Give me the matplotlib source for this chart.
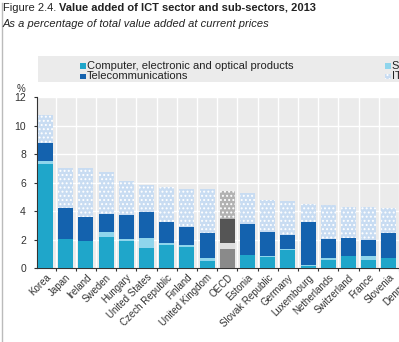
import matplotlib
matplotlib.use('Agg')
import matplotlib.pyplot as plt
from matplotlib.patches import Rectangle
from matplotlib.lines import Line2D
import numpy as np

plt.rcParams['font.family'] = ['Liberation Sans', 'DejaVu Sans']
plt.rcParams['hatch.linewidth'] = 0.9

countries = ['Korea', 'Japan', 'Ireland', 'Sweden', 'Hungary', 'United States',
             'Czech Republic', 'Finland', 'United Kingdom', 'OECD', 'Estonia',
             'Slovak Republic', 'Germany', 'Luxembourg', 'Netherlands',
             'Switzerland', 'France', 'Slovenia', 'Denmark']
computer = [7.35, 2.04, 1.94, 2.22, 1.92, 1.40, 1.64, 1.50, 0.53, 1.35,
            0.90, 0.77, 1.26, 0.15, 0.58, 0.86, 0.56, 0.72, 0.30]
software = [0.20, 0.00, 0.00, 0.35, 0.14, 0.75, 0.14, 0.13, 0.21, 0.40,
            0.00, 0.09, 0.09, 0.05, 0.12, 0.00, 0.28, 0.00, 0.30]
telecom = [1.22, 2.17, 1.69, 1.24, 1.68, 1.80, 1.45, 1.27, 1.76, 1.69,
           2.21, 1.69, 0.99, 3.07, 1.33, 1.29, 1.12, 1.74, 1.80]
it_services = [1.98, 2.85, 3.39, 2.97, 2.39, 1.90, 2.50, 2.68, 3.04, 2.01,
               2.20, 2.24, 2.41, 1.24, 2.41, 2.13, 2.32, 1.80, 1.80]
series_names = ['Computer, electronic and optical products', 'Telecommunications',
                'Software publishing', 'IT and other information services']

c_comp, c_soft, c_tel, c_it = '#1fa6ca', '#8fd5ec', '#1462ae', '#c8dcf2'
g_comp, g_soft, g_tel, g_it = '#8a8a8a', '#dedede', '#555555', '#b2b2b2'

W, H = 399, 342
fig = plt.figure(figsize=(W / 100, H / 100), dpi=100)
x = np.arange(len(countries))
# axes runs past the right edge, like the cropped original
ax = fig.add_axes([37 / W, (H - 268.3) / H, 19 * 20.2 / W, 171 / H])
ax.set_facecolor('#ebebeb')

is_oecd = np.array([c == 'OECD' for c in countries])
cols = [np.where(is_oecd, g, c) for c, g in
        [(c_comp, g_comp), (c_soft, g_soft), (c_tel, g_tel), (c_it, g_it)]]

bottom = np.zeros(len(x))
for vals, col, hatch in [(computer, cols[0], None), (software, cols[1], None),
                         (telecom, cols[2], None), (it_services, cols[3], '....')]:
    ax.bar(x, vals, 0.74, bottom=bottom, color=list(col), edgecolor='white',
           linewidth=0, hatch=hatch, zorder=3)
    bottom += np.array(vals)

ax.set_xlim(-0.42, len(x) - 0.42)
ax.set_ylim(0, 12)
ax.set_yticks(range(0, 13, 2))
ax.yaxis.grid(True, color='white', linewidth=1.0)
ax.set_xticks(x + 0.5, minor=True)
ax.xaxis.grid(True, which='minor', color='white', linewidth=1.0)
ax.set_axisbelow(True)
ax.set_xticks(x)
ax.set_xticklabels(countries, rotation=45, ha='right', rotation_mode='anchor',
                   fontsize=7, color='#333333')
ax.tick_params(axis='x', which='major', length=0, pad=3)
ax.tick_params(axis='x', which='minor', length=2.5, color='#333333', width=0.8)
ax.tick_params(axis='y', length=2, color='#333333', labelsize=7.5, labelcolor='#333333', pad=6)
for s in ['top', 'right']:
    ax.spines[s].set_visible(False)
ax.spines['left'].set_color('#333333')
ax.spines['left'].set_linewidth(0.8)
ax.spines['bottom'].set_color('#333333')
ax.spines['bottom'].set_linewidth(0.8)

# title
renderer = fig.canvas.get_renderer()
t1 = fig.text(3 / W, 1 - 8 / H, 'Figure 2.4. ', fontsize=8, va='center', color='#222222')
ext = t1.get_window_extent(renderer)
fig.text(ext.x1 / W, 1 - 8 / H, 'Value added of ICT sector and sub-sectors, 2013',
         fontsize=8, fontweight='bold', va='center', color='#222222')
fig.text(3 / W, 1 - 24 / H, 'As a percentage of total value added at current prices',
         fontsize=8, style='italic', va='center', color='#222222')

# legend band
fig.patches.append(Rectangle((38 / W, 1 - 82 / H), 400 / W, 26 / H,
                             transform=fig.transFigure, facecolor='#ebebeb',
                             edgecolor='none', zorder=0))
leg = [(80, 66, c_comp, None, series_names[0]), (80, 76, c_tel, None, series_names[1]),
       (385, 66, c_soft, None, series_names[2]), (385, 76, c_it, '....', series_names[3])]
for lx, ly, col, hatch, name in leg:
    fig.patches.append(Rectangle((lx / W, 1 - (ly + 3) / H), 5.5 / W, 5.5 / H,
                                 transform=fig.transFigure, facecolor=col,
                                 edgecolor='white', linewidth=0, hatch=hatch))
    fig.text((lx + 7) / W, 1 - ly / H, name, fontsize=8, va='center', color='#222222')

fig.text(21 / W, 1 - 89 / H, '%', fontsize=7, ha='center', va='center', color='#333333')
fig.add_artist(Line2D([1.5 / W, 1.5 / W], [0, 1 - 3 / H], transform=fig.transFigure,
                      color='#bbbbbb', linewidth=1))

fig.savefig('out.png', dpi=100)
